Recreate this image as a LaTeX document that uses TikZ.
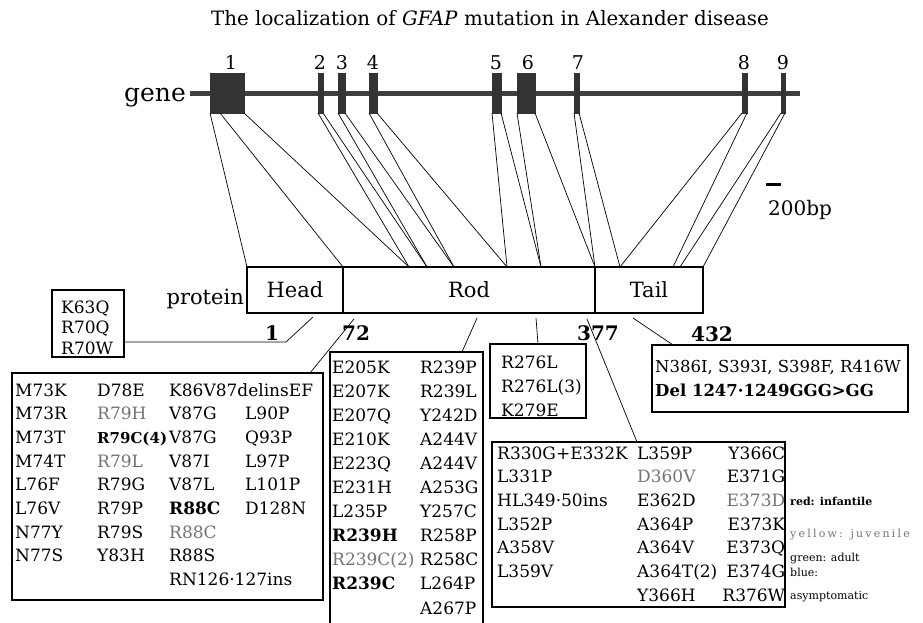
\documentclass[tikz,border=0pt]{standalone}
\usepackage{fontspec}
\setmainfont{DejaVu Serif}
\usepackage{array}
\usetikzlibrary{positioning,calc}

\newcommand{\infant}[1]{\textbf{#1}}
\newcommand{\juven}[1]{\textcolor{black!55}{#1}}

\begin{document}
\begin{tikzpicture}[x=1pt, y=-1pt,
    exon/.style={fill=black!80, draw=black!80, inner sep=0pt, outer sep=0pt, minimum height=40pt},
    exnum/.style={font=\fontsize{19}{22}\selectfont, inner sep=0pt},
    seg/.style={draw, line width=2.5pt, minimum height=46pt, inner sep=0pt, outer sep=0pt, font=\fontsize{21}{25}\selectfont},
    mutbox/.style={draw, line width=1.1pt, inner sep=0pt, outer sep=0pt, anchor=north west},
    muttxt/.style={inner sep=0pt, anchor=base west, font=\fontsize{17}{23.7}\selectfont},
    aanum/.style={font=\bfseries\fontsize{20}{22}\selectfont, inner sep=0pt, anchor=base},
    leg/.style={font=\fontsize{11}{13}\selectfont, inner sep=0pt, anchor=base west},
    link/.style={line width=0.7pt}
]
    \useasboundingbox (0,0) rectangle (923,623);

    % title
    \node[font=\fontsize{19.8}{24}\selectfont, anchor=base] (title) at (490,26)
        {The localization of \textit{GFAP} mutation in Alexander disease};

    % gene with exons
    \node[anchor=base east, font=\fontsize{25}{30}\selectfont, inner sep=0pt] (genelbl) at (186,102) {gene};
    \draw[line width=5pt, black!75] (190,93.5) -- (800,93.5);
    \foreach \n/\x/\w/\lx in {1/210/34/231, 2/318/5/320, 3/338/7/342, 4/369/8/373,
                              5/492/9/496, 6/517/18/528, 7/574/5/578, 8/742/5/744, 9/781/4/783} {
        \node[exon, minimum width=\w pt, anchor=north west] (ex\n) at (\x,73) {};
        \node[exnum, anchor=base] (num\n) at (\lx,70) {\n};
    }

    % scale
    \draw[line width=3pt] (766,184) -- (781,184);
    \node[anchor=base west, font=\fontsize{20}{24}\selectfont, inner sep=0pt] (scale) at (768,215) {200bp};

    % protein
    \node[seg, minimum width=96pt, anchor=north west] (head) at (247,267) {Head};
    \node[seg, minimum width=252pt, right=0pt of head] (rod) {Rod};
    \node[seg, minimum width=108pt, right=0pt of rod] (tail) {Tail};
    \node[anchor=base east, font=\fontsize{21}{25}\selectfont, inner sep=0pt] (protlbl) at (244,304) {protein};

    % exon borders on the protein
    \coordinate (b1) at (409,267);
    \coordinate (b2) at (427,267);
    \coordinate (b3) at (454,267);
    \coordinate (b4) at (507,267);
    \coordinate (b5) at (541,267);
    \coordinate (b7) at (620,267);
    \coordinate (b8) at (673,267);
    \coordinate (b9) at (680,267);

    \draw[link] (ex1.south west) -- (head.north west);
    \draw[link] ($(ex1.south west)+(10,0)$) -- (head.north east);
    \foreach \a/\b in {ex1.south east/b1, ex2.south west/b1, ex2.south east/b2,
                       ex3.south west/b2, ex3.south east/b3, ex4.south west/b3, ex4.south east/b4,
                       ex5.south west/b4, ex5.south east/b5, ex6.south west/b5, ex6.south east/rod.north east,
                       ex7.south west/rod.north east, ex7.south east/b7, ex8.south west/b7, ex8.south east/b8,
                       ex9.south west/b9, ex9.south east/tail.north east}
        \draw[link] (\a) -- (\b);

    % amino acid positions
    \node[aanum] (aa1) at (272,340) {1};
    \node[aanum] (aa72) at (356,340) {72};
    \node[aanum] (aa377) at (598,340) {377};
    \node[aanum] (aa432) at (712,341) {432};

    % mutation boxes
    \node[mutbox, minimum width=72pt, minimum height=67pt] (kbox) at (52,290) {};
    \node[muttxt, font=\fontsize{17}{20.5}\selectfont] (ktxt) at ($(kbox.north west)+(9,23)$)
        {\begin{tabular}[t]{@{}l@{}}K63Q\\ R70Q\\ R70W\end{tabular}};

    \node[mutbox, minimum width=311pt, minimum height=227pt] (mbox) at (12,373) {};
    \node[muttxt] (mtxt) at ($(mbox.north west)+(3,23)$)
        {\begin{tabular}[t]{@{}p{82pt}@{}p{72pt}@{}p{76pt}@{}l@{}}
        M73K & D78E & \multicolumn{2}{@{}l@{}}{K86V87delinsEF}\\
        M73R & \juven{R79H} & V87G & L90P\\
        M73T & {\fontsize{15}{23.7}\selectfont\infant{R79C(4)}} & V87G & Q93P\\
        M74T & \juven{R79L} & V87I & L97P\\
        L76F & R79G & V87L & L101P\\
        L76V & R79P & \infant{R88C} & D128N\\
        N77Y & R79S & \juven{R88C} & \\
        N77S & Y83H & R88S & \\
         & & RN126·127ins & \\
        \end{tabular}};

    \node[minimum width=153pt, minimum height=271pt, inner sep=0pt, outer sep=0pt, anchor=north west] (ebox) at (330,352) {};
    \draw[line width=1.1pt] (ebox.south west) |- (ebox.north east) -- (ebox.south east);
    \node[muttxt, font=\fontsize{17}{24.1}\selectfont] (etxt) at ($(ebox.north west)+(2,21)$)
        {\begin{tabular}[t]{@{}p{88pt}@{}l@{}}
        E205K & R239P\\
        E207K & R239L\\
        E207Q & Y242D\\
        E210K & A244V\\
        E223Q & A244V\\
        E231H & A253G\\
        L235P & Y257C\\
        \infant{R239H} & R258P\\
        \juven{R239C(2)} & R258C\\
        \infant{R239C} & L264P\\
         & A267P\\
        \end{tabular}};

    \node[mutbox, minimum width=96pt, minimum height=74pt] (rbox) at (490,344) {};
    \node[muttxt, font=\fontsize{17}{24}\selectfont] (rtxt) at ($(rbox.north west)+(11,24)$)
        {\begin{tabular}[t]{@{}l@{}}R276L\\ R276L(3)\\ K279E\end{tabular}};

    \node[mutbox, minimum width=293pt, minimum height=165pt] (lbox) at (492,442) {};
    \node[muttxt] (ltxt) at ($(lbox.north west)+(5,17)$)
        {\begin{tabular}[t]{@{}p{140pt}@{}p{66pt}@{}>{\raggedleft\arraybackslash}p{82pt}@{}}
        R330G+E332K & L359P & Y366C\\
        L331P & \juven{D360V} & E371G\\
        HL349·50ins & E362D & \juven{E373D}\\
        L352P & A364P & E373K\\
        A358V & A364V & E373Q\\
        L359V & A364T(2) & E374G\\
         & Y366H & R376W\\
        \end{tabular}};

    \node[mutbox, minimum width=256pt, minimum height=67pt] (nbox) at (652,345) {};
    \node[muttxt, font=\fontsize{16.5}{24}\selectfont] (ntxt) at ($(nbox.north west)+(3,27)$)
        {\begin{tabular}[t]{@{}l@{}}N386I, S393I, S398F, R416W\\ \infant{Del 1247·1249GGG>GG}\end{tabular}};

    % pointers to the protein
    \coordinate (hk) at (286,342);
    \coordinate (p63) at (313,317);
    \coordinate (p72) at (354,319);
    \coordinate (pE) at (477,318);
    \coordinate (pR) at (536,318);
    \coordinate (pL) at (587,319);
    \coordinate (pN) at (633,318);
    \draw[link] (kbox.east |- hk) -- (hk) -- (p63);
    \draw[link] ($(mbox.north east)+(-13,0)$) -- (p72);
    \draw[link] ($(ebox.north east)+(-21,0)$) -- (pE);
    \draw[link] (rbox.north) -- (pR);
    \draw[link] ($(lbox.north west)+(145,0)$) -- (pL);
    \draw[link] ($(nbox.north west)+(21,0)$) -- (pN);

    % legend
    \node[leg] (legred) at (790,505) {\textbf{red: infantile}};
    \node[leg, black!55] (legyel) at (790,537) {\addfontfeatures{LetterSpace=20}yellow: juvenile};
    \node[leg] (leggrn) at (790,561) {green: adult};
    \node[leg] (legblu) at (790,576) {blue:};
    \node[leg] (legasy) at (790,599) {asymptomatic};
\end{tikzpicture}
\end{document}
